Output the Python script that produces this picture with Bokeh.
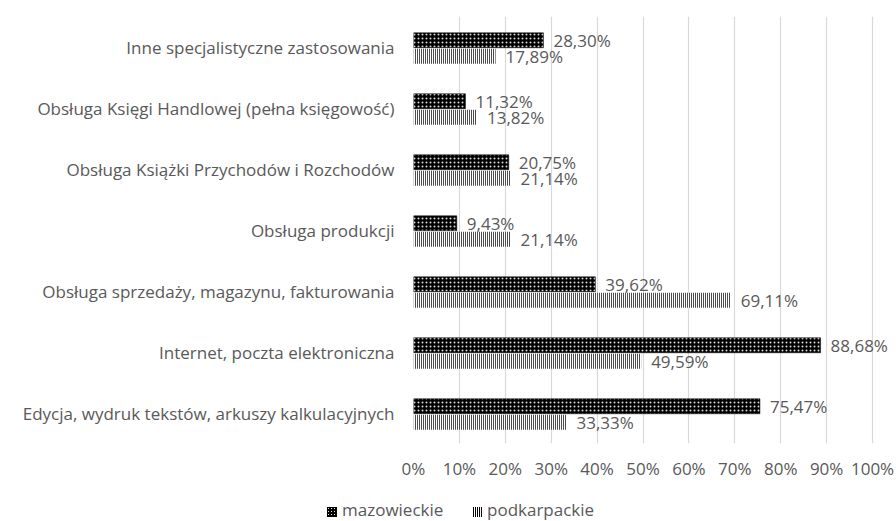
from bokeh.plotting import figure
from bokeh.layouts import column
from bokeh.models import ColumnDataSource, FactorRange, Range1d, NumeralTickFormatter, FixedTicker, Div
from bokeh.transform import dodge
from bokeh.core.properties import value
from bokeh.embed import file_html
from bokeh.resources import INLINE

categories = [
    "Inne specjalistyczne zastosowania",
    "Obsługa Księgi Handlowej (pełna księgowość)",
    "Obsługa Książki Przychodów i Rozchodów",
    "Obsługa produkcji",
    "Obsługa sprzedaży, magazynu, fakturowania",
    "Internet, poczta elektroniczna",
    "Edycja, wydruk tekstów, arkuszy kalkulacyjnych",
]
mazowieckie = [28.30, 11.32, 20.75, 9.43, 39.62, 88.68, 75.47]
podkarpackie = [17.89, 13.82, 21.14, 21.14, 69.11, 49.59, 33.33]
series_names = ["mazowieckie", "podkarpackie"]
x_ticks = [0, 0.1, 0.2, 0.3, 0.4, 0.5, 0.6, 0.7, 0.8, 0.9, 1.0]

FONT = "Open Sans"
GRAY = "#595959"
FS = "17px"

MAZ_STYLE = dict(fill_color="black", line_color="black", line_width=0.5,
                 hatch_pattern="dot", hatch_color="#d8d8d8", hatch_scale=4, hatch_weight=0.8)
POD_STYLE = dict(fill_color="white", line_color=None,
                 hatch_pattern="vertical_line", hatch_color="black", hatch_scale=2, hatch_weight=1.4)

def fmt(v):
    return ("%.2f" % v).replace(".", ",") + "%"

src = ColumnDataSource(dict(
    cat=categories,
    maz=[v / 100 for v in mazowieckie],
    pod=[v / 100 for v in podkarpackie],
    maz_lbl=[fmt(v) for v in mazowieckie],
    pod_lbl=[fmt(v) for v in podkarpackie],
))

yr = FactorRange(factors=list(reversed(categories)), range_padding=0, factor_padding=0)
p = figure(width=896, height=490, y_range=yr, x_range=Range1d(0, 1.05),
           output_backend="svg", toolbar_location=None,
           min_border_left=413, min_border_right=1, min_border_top=16, min_border_bottom=47,
           outline_line_color=None, background_fill_color="white")

off_m = 0.11
off_p = -0.152
h = 0.245
p.hbar(y=dodge("cat", off_m, range=yr), right="maz", left=0, height=h, source=src, **MAZ_STYLE)
p.hbar(y=dodge("cat", off_p, range=yr), right="pod", left=0, height=h, source=src, **POD_STYLE)

p.text(x="maz", y=dodge("cat", off_m, range=yr), text="maz_lbl", source=src, x_offset=10,
       text_baseline="middle", text_align="left", text_color=GRAY, text_font=value(FONT),
       text_font_size=FS)
p.text(x="pod", y=dodge("cat", off_p, range=yr), text="pod_lbl", source=src, x_offset=10,
       text_baseline="middle", text_align="left", text_color=GRAY, text_font=value(FONT),
       text_font_size=FS)

p.xaxis.ticker = FixedTicker(ticks=x_ticks)
p.xaxis.formatter = NumeralTickFormatter(format="0%")
p.xaxis.axis_line_color = None
p.xaxis.major_tick_line_color = None
p.xaxis.minor_tick_line_color = None
p.xaxis.major_label_text_font = FONT
p.xaxis.major_label_text_font_size = FS
p.xaxis.major_label_text_color = GRAY
p.xaxis.major_label_standoff = 7

p.yaxis.axis_line_color = None
p.yaxis.major_tick_line_color = None
p.yaxis.minor_tick_line_color = None
p.yaxis.major_label_text_font = FONT
p.yaxis.major_label_text_font_size = FS
p.yaxis.major_label_text_color = GRAY
p.yaxis.major_label_standoff = 13

p.xgrid.ticker = FixedTicker(ticks=x_ticks)
p.xgrid.grid_line_color = "#d9d9d9"
p.xgrid.grid_line_width = 1.2
p.ygrid.grid_line_color = None

# legend strip below the chart (swatches mimic the bar patterns)
maz_css = ("background-color:#000;"
           "background-image:radial-gradient(circle, #ddd 0.6px, transparent 0.9px);"
           "background-size:3px 3px;")
pod_css = ("background-image:repeating-linear-gradient(90deg, #000 0px, #000 1px, #fff 1px, #fff 2px);")
txt_css = "position:absolute;top:8px;line-height:23px;white-space:nowrap;"
legend_html = (
    f'<div style="position:relative;width:896px;height:31px;font-family:\'{FONT}\';'
    f'font-size:{FS};color:{GRAY};">'
    f'<span style="position:absolute;left:327px;top:17px;width:10px;height:10px;{maz_css}"></span>'
    f'<span style="{txt_css}left:342px;">{series_names[0]}</span>'
    f'<span style="position:absolute;left:473px;top:17px;width:10px;height:10px;{pod_css}"></span>'
    f'<span style="{txt_css}left:487px;">{series_names[1]}</span>'
    '</div>'
)
lg = Div(text=legend_html, width=896, height=31, margin=0)

layout = column(p, lg, spacing=0)
open("out.html", "w").write(file_html(layout, INLINE))
